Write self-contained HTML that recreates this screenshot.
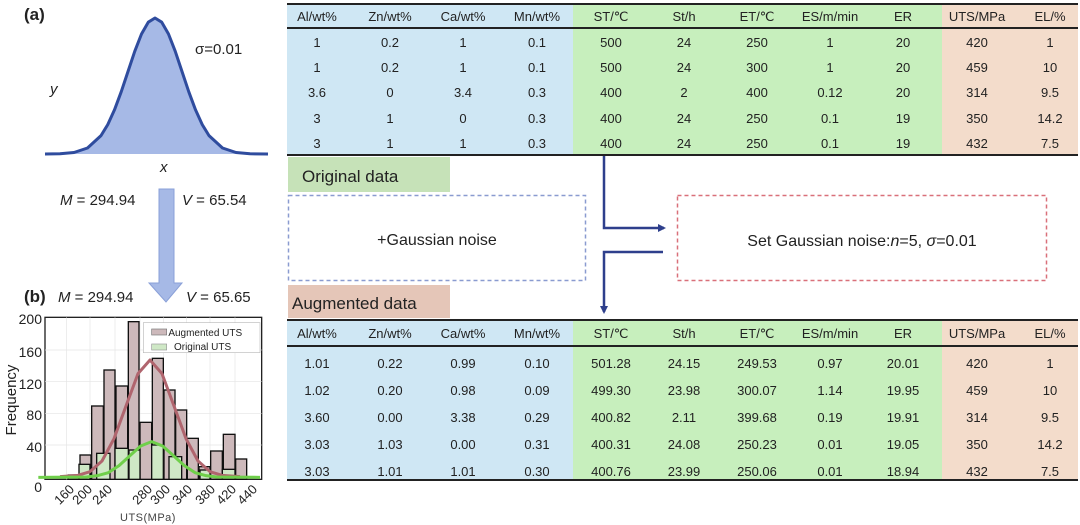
<!DOCTYPE html>
<html><head><meta charset="utf-8"><style>
html,body{margin:0;padding:0;background:#fff;}
svg{display:block;font-family:"Liberation Sans",Arial,sans-serif;}
</style></head><body>
<svg width="1080" height="525" viewBox="0 0 1080 525" xmlns="http://www.w3.org/2000/svg">
<defs>
<marker id="ah" markerWidth="8" markerHeight="8" refX="6" refY="4" orient="auto" markerUnits="userSpaceOnUse"><path d="M0,0 L8,4 L0,8 z" fill="#2e3f8c"/></marker>
</defs>
<!-- (a) -->
<text x="24" y="20" font-size="17" font-weight="bold" fill="#222">(a)</text>
<path d="M45,154 L60,153.8 L74,152.5 L87.5,148 L101,135.6 L107.75,124.6 L114.5,109.8 L121.25,91.7 L128,71.5 L134.75,51.3 L141.5,34 L148.25,22.2 L155,18 L161.75,22.2 L168.5,34 L175.25,51.3 L182,71.5 L188.75,91.7 L195.5,109.8 L202.25,124.6 L209,135.6 L222.5,148 L236,152.5 L250,153.8 L268,154 Z" fill="#a6b9e6" stroke="none"/>
<path d="M45,154 L60,153.8 L74,152.5 L87.5,148 L101,135.6 L107.75,124.6 L114.5,109.8 L121.25,91.7 L128,71.5 L134.75,51.3 L141.5,34 L148.25,22.2 L155,18 L161.75,22.2 L168.5,34 L175.25,51.3 L182,71.5 L188.75,91.7 L195.5,109.8 L202.25,124.6 L209,135.6 L222.5,148 L236,152.5 L250,153.8 L268,154" fill="none" stroke="#2f4c9e" stroke-width="3" stroke-linejoin="round"/>
<text x="195" y="54" font-size="15" fill="#222">σ=0.01</text>
<text x="50" y="94" font-size="15" font-style="italic" fill="#222">y</text>
<text x="160" y="172" font-size="15" font-style="italic" fill="#222">x</text>
<text x="60" y="205" font-size="15" fill="#222"><tspan font-style="italic">M</tspan> = 294.94</text>
<text x="182" y="205" font-size="15" fill="#222"><tspan font-style="italic">V</tspan> = 65.54</text>
<path d="M159,189 L174,189 L174,283 L182,283 L166,302 L149,283 L159,283 Z" fill="#a6b9e6" stroke="#8aa0d8" stroke-width="1"/>
<!-- (b) -->
<text x="24" y="302" font-size="17" font-weight="bold" fill="#222">(b)</text>
<text x="58" y="302" font-size="15" fill="#222"><tspan font-style="italic">M</tspan> = 294.94</text>
<text x="186" y="302" font-size="15" fill="#222"><tspan font-style="italic">V</tspan> = 65.65</text>
<g transform="translate(0,270) scale(0.33333)">
<rect x="135" y="142" width="650" height="486" fill="#fff" stroke="#222" stroke-width="4"/>
<g stroke="#e4e4e4" stroke-width="2">
<line x1="135" y1="240" x2="785" y2="240"/><line x1="135" y1="335" x2="785" y2="335"/><line x1="135" y1="430" x2="785" y2="430"/><line x1="135" y1="525" x2="785" y2="525"/>
<line x1="200" y1="142" x2="200" y2="628"/><line x1="270" y1="142" x2="270" y2="628"/><line x1="345" y1="142" x2="345" y2="628"/><line x1="420" y1="142" x2="420" y2="628"/><line x1="490" y1="142" x2="490" y2="628"/><line x1="560" y1="142" x2="560" y2="628"/><line x1="630" y1="142" x2="630" y2="628"/><line x1="705" y1="142" x2="705" y2="628"/>
</g>
<g fill="#cdb9bb" stroke="#111" stroke-width="4">
<rect x="205" y="615" width="35" height="13"/><rect x="240" y="555" width="33" height="73"/><rect x="275" y="408" width="35" height="220"/><rect x="312" y="300" width="33" height="328"/><rect x="348" y="348" width="35" height="280"/><rect x="385" y="155" width="32" height="473"/><rect x="420" y="457" width="35" height="171"/><rect x="457" y="265" width="33" height="363"/><rect x="492" y="360" width="33" height="268"/><rect x="527" y="420" width="33" height="208"/><rect x="562" y="505" width="33" height="123"/><rect x="597" y="590" width="33" height="38"/><rect x="632" y="543" width="35" height="85"/><rect x="670" y="493" width="35" height="135"/><rect x="707" y="567" width="33" height="61"/>
</g>
<g fill="#cfe8c6" stroke="#111" stroke-width="4">
<rect x="237" y="583" width="33" height="45"/><rect x="290" y="550" width="40" height="78"/><rect x="345" y="535" width="40" height="93"/><rect x="387" y="540" width="33" height="88"/><rect x="455" y="525" width="35" height="103"/><rect x="507" y="560" width="38" height="68"/><rect x="600" y="600" width="30" height="28"/><rect x="667" y="598" width="38" height="30"/>
</g>
<polyline points="180,620 234,616 270,605 306,573 342,506 378,408 414,311 450,270 486,311 522,408 558,506 594,573 630,605 666,616 720,620" fill="none" stroke="#b0656e" stroke-width="9" stroke-linejoin="round"/>
<polyline points="115,622 260,621 292,617 325,608 357,587 390,557 422,528 455,515 488,528 520,557 553,587 585,608 618,617 650,621 780,622" fill="none" stroke="#6fcf4a" stroke-width="9" stroke-linejoin="round"/>
<rect x="430" y="158" width="350" height="90" fill="#fff" stroke="#bbb" stroke-width="2"/>
<rect x="455" y="177" width="45" height="18" fill="#cdb9bb" stroke="#777" stroke-width="2"/>
<rect x="455" y="222" width="45" height="18" fill="#cfe8c6" stroke="#999" stroke-width="2"/>
<text x="505" y="198" font-size="30" fill="#222">Augmented UTS</text>
<text x="522" y="240" font-size="30" fill="#222">Original UTS</text>
</g>
<g font-size="14" fill="#222" text-anchor="end">
<text x="42" y="324">200</text><text x="42" y="357">160</text><text x="42" y="389">120</text><text x="42" y="420">80</text><text x="42" y="452">40</text><text x="42" y="492">0</text>
</g>
<text transform="translate(16,400) rotate(-90)" font-size="15" text-anchor="middle" fill="#222">Frequency</text>
<g font-size="13" fill="#222" text-anchor="end">
<text transform="translate(75,490) rotate(-45)">160</text>
<text transform="translate(93,490) rotate(-45)">200</text>
<text transform="translate(113,490) rotate(-45)">240</text>
<text transform="translate(153,490) rotate(-45)">280</text>
<text transform="translate(171,490) rotate(-45)">300</text>
<text transform="translate(193,490) rotate(-45)">340</text>
<text transform="translate(216,490) rotate(-45)">380</text>
<text transform="translate(237,490) rotate(-45)">420</text>
<text transform="translate(258,490) rotate(-45)">440</text>
</g>
<text x="148" y="521" font-size="11" fill="#444" text-anchor="middle" letter-spacing="0.5">UTS(MPa)</text>

<!-- Top table -->
<rect x="287" y="3" width="286" height="152" fill="#cfe7f4"/>
<rect x="573" y="3" width="369" height="152" fill="#c7efbd"/>
<rect x="942" y="3" width="136" height="152" fill="#f3dccb"/>
<line x1="287" y1="4" x2="1078" y2="4" stroke="#222" stroke-width="2"/>
<line x1="287" y1="28" x2="1078" y2="28" stroke="#222" stroke-width="2"/>
<line x1="287" y1="155" x2="1078" y2="155" stroke="#222" stroke-width="2"/>
<g font-size="13" fill="#222" text-anchor="middle">
<text y="21"><tspan x="317">Al/wt%</tspan><tspan x="390">Zn/wt%</tspan><tspan x="463">Ca/wt%</tspan><tspan x="537">Mn/wt%</tspan><tspan x="611">ST/℃</tspan><tspan x="684">St/h</tspan><tspan x="757">ET/℃</tspan><tspan x="830">ES/m/min</tspan><tspan x="903">ER</tspan><tspan x="977">UTS/MPa</tspan><tspan x="1050">EL/%</tspan></text>
<text y="47"><tspan x="317">1</tspan><tspan x="390">0.2</tspan><tspan x="463">1</tspan><tspan x="537">0.1</tspan><tspan x="611">500</tspan><tspan x="684">24</tspan><tspan x="757">250</tspan><tspan x="830">1</tspan><tspan x="903">20</tspan><tspan x="977">420</tspan><tspan x="1050">1</tspan></text>
<text y="72"><tspan x="317">1</tspan><tspan x="390">0.2</tspan><tspan x="463">1</tspan><tspan x="537">0.1</tspan><tspan x="611">500</tspan><tspan x="684">24</tspan><tspan x="757">300</tspan><tspan x="830">1</tspan><tspan x="903">20</tspan><tspan x="977">459</tspan><tspan x="1050">10</tspan></text>
<text y="97"><tspan x="317">3.6</tspan><tspan x="390">0</tspan><tspan x="463">3.4</tspan><tspan x="537">0.3</tspan><tspan x="611">400</tspan><tspan x="684">2</tspan><tspan x="757">400</tspan><tspan x="830">0.12</tspan><tspan x="903">20</tspan><tspan x="977">314</tspan><tspan x="1050">9.5</tspan></text>
<text y="123"><tspan x="317">3</tspan><tspan x="390">1</tspan><tspan x="463">0</tspan><tspan x="537">0.3</tspan><tspan x="611">400</tspan><tspan x="684">24</tspan><tspan x="757">250</tspan><tspan x="830">0.1</tspan><tspan x="903">19</tspan><tspan x="977">350</tspan><tspan x="1050">14.2</tspan></text>
<text y="148"><tspan x="317">3</tspan><tspan x="390">1</tspan><tspan x="463">1</tspan><tspan x="537">0.3</tspan><tspan x="611">400</tspan><tspan x="684">24</tspan><tspan x="757">250</tspan><tspan x="830">0.1</tspan><tspan x="903">19</tspan><tspan x="977">432</tspan><tspan x="1050">7.5</tspan></text>
</g>

<!-- middle -->
<rect x="288" y="157" width="162" height="35" fill="#c6e2b8"/>
<text x="302" y="182" font-size="17" fill="#222">Original data</text>
<rect x="288.5" y="195.5" width="297" height="85" fill="none" stroke="#8a9bd0" stroke-width="1.5" stroke-dasharray="4,3"/>
<text x="437" y="245" font-size="16" text-anchor="middle" fill="#222">+Gaussian noise</text>
<rect x="677.5" y="195.5" width="369" height="85" fill="none" stroke="#d9707a" stroke-width="1.5" stroke-dasharray="4,3"/>
<text x="862" y="246" font-size="16" text-anchor="middle" fill="#222">Set Gaussian noise:<tspan font-style="italic">n</tspan>=5, <tspan font-style="italic">σ</tspan>=0.01</text>
<path d="M604,156 L604,228 L664,228" fill="none" stroke="#2e3f8c" stroke-width="2.5" marker-end="url(#ah)"/>
<path d="M663,252 L604,252 L604,312" fill="none" stroke="#2e3f8c" stroke-width="2.5" marker-end="url(#ah)"/>
<rect x="288" y="285" width="162" height="33" fill="#e5c6b8"/>
<text x="292" y="309" font-size="17" fill="#222">Augmented data</text>

<!-- Bottom table -->
<rect x="287" y="319" width="286" height="161" fill="#cfe7f4"/>
<rect x="573" y="319" width="369" height="161" fill="#c7efbd"/>
<rect x="942" y="319" width="136" height="161" fill="#f3dccb"/>
<line x1="287" y1="320" x2="1078" y2="320" stroke="#222" stroke-width="2"/>
<line x1="287" y1="346" x2="1078" y2="346" stroke="#222" stroke-width="2"/>
<line x1="287" y1="480" x2="1078" y2="480" stroke="#222" stroke-width="2"/>
<g font-size="13" fill="#222" text-anchor="middle">
<text y="338"><tspan x="317">Al/wt%</tspan><tspan x="390">Zn/wt%</tspan><tspan x="463">Ca/wt%</tspan><tspan x="537">Mn/wt%</tspan><tspan x="611">ST/℃</tspan><tspan x="684">St/h</tspan><tspan x="757">ET/℃</tspan><tspan x="830">ES/m/min</tspan><tspan x="903">ER</tspan><tspan x="977">UTS/MPa</tspan><tspan x="1050">EL/%</tspan></text>
<text y="368"><tspan x="317">1.01</tspan><tspan x="390">0.22</tspan><tspan x="463">0.99</tspan><tspan x="537">0.10</tspan><tspan x="611">501.28</tspan><tspan x="684">24.15</tspan><tspan x="757">249.53</tspan><tspan x="830">0.97</tspan><tspan x="903">20.01</tspan><tspan x="977">420</tspan><tspan x="1050">1</tspan></text>
<text y="395"><tspan x="317">1.02</tspan><tspan x="390">0.20</tspan><tspan x="463">0.98</tspan><tspan x="537">0.09</tspan><tspan x="611">499.30</tspan><tspan x="684">23.98</tspan><tspan x="757">300.07</tspan><tspan x="830">1.14</tspan><tspan x="903">19.95</tspan><tspan x="977">459</tspan><tspan x="1050">10</tspan></text>
<text y="422"><tspan x="317">3.60</tspan><tspan x="390">0.00</tspan><tspan x="463">3.38</tspan><tspan x="537">0.29</tspan><tspan x="611">400.82</tspan><tspan x="684">2.11</tspan><tspan x="757">399.68</tspan><tspan x="830">0.19</tspan><tspan x="903">19.91</tspan><tspan x="977">314</tspan><tspan x="1050">9.5</tspan></text>
<text y="449"><tspan x="317">3.03</tspan><tspan x="390">1.03</tspan><tspan x="463">0.00</tspan><tspan x="537">0.31</tspan><tspan x="611">400.31</tspan><tspan x="684">24.08</tspan><tspan x="757">250.23</tspan><tspan x="830">0.01</tspan><tspan x="903">19.05</tspan><tspan x="977">350</tspan><tspan x="1050">14.2</tspan></text>
<text y="476"><tspan x="317">3.03</tspan><tspan x="390">1.01</tspan><tspan x="463">1.01</tspan><tspan x="537">0.30</tspan><tspan x="611">400.76</tspan><tspan x="684">23.99</tspan><tspan x="757">250.06</tspan><tspan x="830">0.01</tspan><tspan x="903">18.94</tspan><tspan x="977">432</tspan><tspan x="1050">7.5</tspan></text>
</g>
</svg>
</body></html>
